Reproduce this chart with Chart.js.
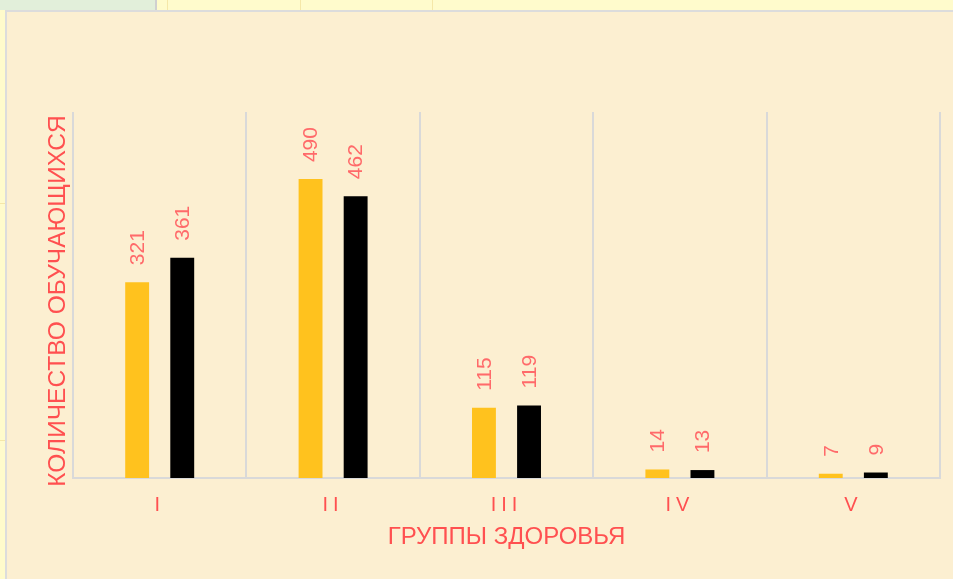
<!DOCTYPE html>
<html lang="ru">
<head>
<meta charset="utf-8">
<title>Группы здоровья</title>
<script src="https://cdn.jsdelivr.net/npm/chart.js@4/dist/chart.umd.min.js"></script>
<style>
    html, body { margin: 0; padding: 0; }
    body {
        width: 953px; height: 579px; overflow: hidden; position: relative;
        background: #FFFBCC;
        font-family: "Liberation Sans", Arial, sans-serif;
    }
    /* фон листа вокруг диаграммы */
    .cell-green { position: absolute; left: 0; top: 0; width: 155px; height: 10px; background: #E2EFDA; border-right: 2px solid #D0D0D0; }
    .vline { position: absolute; top: 0; height: 10px; width: 1px; background: #F5E7A8; }
    .hline { position: absolute; left: 0; width: 5px; height: 1px; background: #F5E7A8; }
    #panel {
        position: absolute; left: 5px; top: 10px; right: 0; bottom: 0;
        background: #FCEFD1;
        border-left: 2px solid #DCDCDC; border-top: 2px solid #DCDCDC;
    }
    #chart { position: absolute; left: 0; top: 0; }
</style>
</head>
<body>
<div class="cell-green"></div>
<div class="vline" style="left:167px"></div>
<div class="vline" style="left:300px"></div>
<div class="vline" style="left:432px"></div>
<div class="hline" style="top:203px"></div>
<div class="hline" style="top:440px"></div>
<div id="panel"><canvas id="chart" width="946" height="567"></canvas></div>

<script>
// Данные диаграммы
const groups = ['I', 'II', 'III', 'IV', 'V'];       // группы здоровья
const series1 = [321, 490, 115, 14, 7];              // первая серия (жёлтая)
const series2 = [361, 462, 119, 13, 9];              // вторая серия (чёрная)

const redText = '#FF5050';
const labelRed = '#FF6A6A';
const gridGray = '#D9D9D9';

// Подписи значений над столбцами (повёрнуты на 90°)
const valueLabels = {
    id: 'valueLabels',
    afterDatasetsDraw(chart) {
        const ctx = chart.ctx;
        ctx.save();
        ctx.font = '21px "Liberation Sans", Arial, sans-serif';
        ctx.fillStyle = labelRed;
        ctx.textAlign = 'left';
        ctx.textBaseline = 'middle';
        chart.data.datasets.forEach((ds, i) => {
            chart.getDatasetMeta(i).data.forEach((bar, j) => {
                ctx.save();
                ctx.translate(bar.x + 1, bar.y - 17);
                ctx.rotate(-Math.PI / 2);
                ctx.fillText(String(ds.data[j]), 0, 0);
                ctx.restore();
            });
        });
        ctx.restore();
    }
};

// Разрядка букв в подписях оси X (I I I) и сдвиг заголовка оси Y
const axisTweaks = {
    id: 'axisTweaks',
    beforeDraw(chart) {
        const xs = chart.scales.x;
        const ys = chart.scales.y;
        if (xs._patched) return;
        const drawLabels = xs.drawLabels.bind(xs);
        xs.drawLabels = function (area) {
            const ctx = chart.ctx;
            ctx.save();
            ctx.letterSpacing = '5px';
            drawLabels(area);
            ctx.restore();
        };
        const drawTitle = ys.drawTitle.bind(ys);
        ys.drawTitle = function () {
            const ctx = chart.ctx;
            ctx.save();
            ctx.translate(0, 6);
            drawTitle();
            ctx.restore();
        };
        xs._patched = true;
    }
};

const ctx = document.getElementById('chart').getContext('2d');
new Chart(ctx, {
    type: 'bar',
    data: {
        labels: groups,
        datasets: [
            { label: 'Серия 1', data: series1, backgroundColor: '#FFC21E' },
            { label: 'Серия 2', data: series2, backgroundColor: '#000000' }
        ]
    },
    options: {
        responsive: false,
        animation: false,
        devicePixelRatio: 1,
        categoryPercentage: 0.52,
        barPercentage: 0.53,
        layout: { padding: { left: 33, right: 13, top: 100, bottom: 11 } },
        plugins: {
            legend: { display: false },
            tooltip: { enabled: false }
        },
        scales: {
            x: {
                grid: { offset: true, drawTicks: false, color: gridGray, lineWidth: 2 },
                border: { display: true, color: gridGray, width: 2 },
                ticks: { color: redText, font: { size: 20, family: '"Liberation Sans", Arial' }, padding: 15 },
                title: {
                    display: true,
                    text: 'ГРУППЫ ЗДОРОВЬЯ',
                    color: redText,
                    font: { size: 24, family: '"Liberation Sans", Arial' },
                    padding: { top: 0, bottom: 16 }
                },
                afterFit(scale) { scale.height = 90; }
            },
            y: {
                min: 0,
                max: 600,
                grid: { display: false },
                border: { display: false },
                ticks: { display: false },
                title: {
                    display: true,
                    text: 'КОЛИЧЕСТВО ОБУЧАЮЩИХСЯ',
                    color: redText,
                    font: { size: 24.5, family: '"Liberation Sans", Arial' },
                    padding: { top: 4, bottom: 4 }
                },
                afterFit(scale) { scale.width = 33; }
            }
        }
    },
    plugins: [valueLabels, axisTweaks]
});
</script>
</body>
</html>
